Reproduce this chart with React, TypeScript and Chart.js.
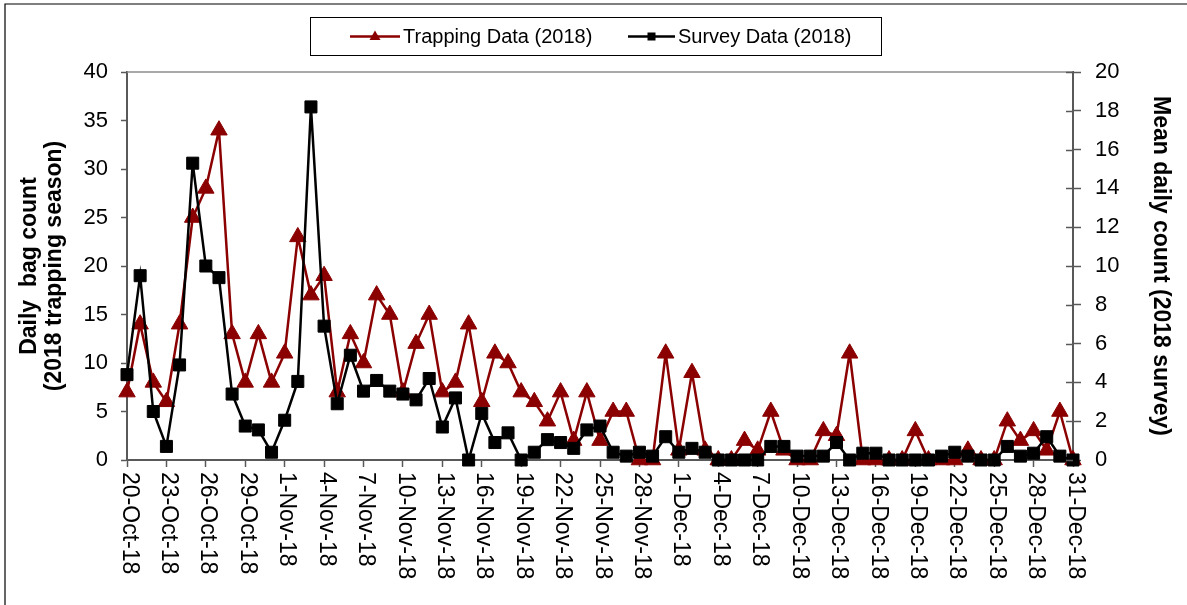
import React, { useEffect, useRef } from 'react';
import { Chart, registerables } from 'chart.js';

Chart.register(...registerables);

const dates = [
  '20-Oct-18', '21-Oct-18', '22-Oct-18', '23-Oct-18', '24-Oct-18', '25-Oct-18', '26-Oct-18', '27-Oct-18', '28-Oct-18', '29-Oct-18', '30-Oct-18', '31-Oct-18',
  '1-Nov-18', '2-Nov-18', '3-Nov-18', '4-Nov-18', '5-Nov-18', '6-Nov-18', '7-Nov-18', '8-Nov-18', '9-Nov-18', '10-Nov-18',
  '11-Nov-18', '12-Nov-18', '13-Nov-18', '14-Nov-18', '15-Nov-18', '16-Nov-18', '17-Nov-18', '18-Nov-18', '19-Nov-18', '20-Nov-18',
  '21-Nov-18', '22-Nov-18', '23-Nov-18', '24-Nov-18', '25-Nov-18', '26-Nov-18', '27-Nov-18', '28-Nov-18', '29-Nov-18', '30-Nov-18',
  '1-Dec-18', '2-Dec-18', '3-Dec-18', '4-Dec-18', '5-Dec-18', '6-Dec-18', '7-Dec-18', '8-Dec-18', '9-Dec-18', '10-Dec-18',
  '11-Dec-18', '12-Dec-18', '13-Dec-18', '14-Dec-18', '15-Dec-18', '16-Dec-18', '17-Dec-18', '18-Dec-18', '19-Dec-18', '20-Dec-18',
  '21-Dec-18', '22-Dec-18', '23-Dec-18', '24-Dec-18', '25-Dec-18', '26-Dec-18', '27-Dec-18', '28-Dec-18', '29-Dec-18', '30-Dec-18', '31-Dec-18',
];

const trapping = [
  7, 14, 8, 6, 14, 25, 28, 34, 13, 8, 13, 8,
  11, 23, 17, 19, 7, 13, 10, 17, 15, 7,
  12, 15, 7, 8, 14, 6, 11, 10, 7, 6,
  4, 7, 2, 7, 2, 5, 5, 0, 0, 11,
  1, 9, 1, 0, 0, 2, 1, 5, 1, 0,
  0, 3, 2.5, 11, 0, 0, 0, 0, 3, 0,
  0, 0, 1, 0, 0, 4, 2, 3, 1, 5, 0,
];

const survey = [
  4.4, 9.5, 2.5, 0.7, 4.9, 15.3, 10.0, 9.4, 3.4, 1.75, 1.55, 0.4,
  2.05, 4.05, 18.2, 6.9, 2.9, 5.4, 3.55, 4.1, 3.55, 3.4,
  3.1, 4.2, 1.7, 3.2, 0, 2.4, 0.9, 1.4, 0, 0.4,
  1.05, 0.9, 0.6, 1.55, 1.75, 0.4, 0.2, 0.4, 0.2, 1.2,
  0.4, 0.6, 0.4, 0, 0, 0, 0, 0.7, 0.7, 0.2,
  0.2, 0.2, 0.9, 0, 0.35, 0.35, 0, 0, 0, 0,
  0.2, 0.4, 0.2, 0, 0, 0.7, 0.2, 0.35, 1.2, 0.2, 0,
];

const seriesNames = ['Trapping Data (2018)', 'Survey Data (2018)'];
const leftTitle = ['Daily  bag count', '(2018 trapping season)'];
const rightTitle = 'Mean daily count (2018 survey)';

const FONT = '"Liberation Sans", Arial, sans-serif';
const RED = '#8B0000';
const AXIS = '#595959';

const decorPlugin = {
  id: 'decor',
  afterDraw(chart: any) {
    const { ctx, chartArea } = chart;
    const xs = chart.scales.x;
    const y1 = chart.scales.y1;
    ctx.save();

    // outer frame (top & left)
    ctx.strokeStyle = '#000';
    ctx.lineWidth = 1.2;
    ctx.beginPath();
    ctx.moveTo(5, 605);
    ctx.lineTo(5, 4);
    ctx.lineTo(1187, 4);
    ctx.stroke();

    // plot area top border
    ctx.strokeStyle = '#8c8c8c';
    ctx.lineWidth = 1.5;
    ctx.beginPath();
    ctx.moveTo(chartArea.left, chartArea.top);
    ctx.lineTo(chartArea.right, chartArea.top);
    ctx.stroke();

    // inner half of right-axis cross ticks
    ctx.strokeStyle = AXIS;
    ctx.lineWidth = 1.5;
    y1.ticks.forEach((t: any) => {
      const py = Math.round(y1.getPixelForValue(t.value)) + 0.5;
      ctx.beginPath();
      ctx.moveTo(chartArea.right - 7, py);
      ctx.lineTo(chartArea.right, py);
      ctx.stroke();
    });

    // x labels rotated clockwise
    ctx.fillStyle = '#000';
    ctx.font = `23px ${FONT}`;
    ctx.textAlign = 'left';
    ctx.textBaseline = 'middle';
    (chart.data.labels as string[]).forEach((lab, i) => {
      if (i % 3 !== 0) return;
      const px = xs.getPixelForValue(i);
      ctx.save();
      ctx.translate(px + 2, xs.top + 12);
      ctx.rotate(Math.PI / 2);
      ctx.fillText(lab, 0, 0);
      ctx.restore();
    });

    // legend
    const bx = 310.5, by = 17.5, bw = 571, bh = 38;
    ctx.strokeStyle = '#000';
    ctx.lineWidth = 1;
    ctx.strokeRect(bx, by, bw, bh);
    const cy = by + bh / 2;
    const items = [
      { x0: 350, x1: 400, tx: 403, color: RED, shape: 'tri' },
      { x0: 628, x1: 675, tx: 678, color: '#000', shape: 'rect' },
    ];
    ctx.font = `20px ${FONT}`;
    ctx.textBaseline = 'middle';
    items.forEach((it, i) => {
      ctx.strokeStyle = it.color;
      ctx.fillStyle = it.color;
      ctx.lineWidth = 2.5;
      ctx.beginPath();
      ctx.moveTo(it.x0, cy);
      ctx.lineTo(it.x1, cy);
      ctx.stroke();
      const mx = (it.x0 + it.x1) / 2;
      ctx.beginPath();
      if (it.shape === 'tri') {
        ctx.moveTo(mx, cy - 6);
        ctx.lineTo(mx + 5.5, cy + 3.5);
        ctx.lineTo(mx - 5.5, cy + 3.5);
        ctx.closePath();
        ctx.fill();
      } else {
        ctx.fillRect(mx - 4, cy - 4, 8, 8);
      }
      ctx.fillStyle = '#000';
      ctx.fillText(chart.data.datasets[i].label, it.tx, cy + 1);
    });

    ctx.restore();
  },
};

export default function App() {
  const ref = useRef<HTMLCanvasElement | null>(null);

  useEffect(() => {
    document.body.style.margin = '0';
    const canvas = ref.current;
    if (!canvas) return;
    Chart.defaults.font.family = FONT;
    const chart = new Chart(canvas, {
      type: 'line',
      data: {
        labels: dates,
        datasets: [
          {
            label: seriesNames[0],
            data: trapping,
            yAxisID: 'y',
            borderColor: RED,
            backgroundColor: RED,
            borderWidth: 2.5,
            pointStyle: 'triangle',
            pointRadius: 9.5,
            pointBorderWidth: 1,
            pointBackgroundColor: RED,
            pointBorderColor: RED,
            tension: 0,
            clip: false,
            order: 2,
          },
          {
            label: seriesNames[1],
            data: survey,
            yAxisID: 'y1',
            borderColor: '#000',
            backgroundColor: '#000',
            borderWidth: 2.5,
            pointStyle: 'rect',
            pointRadius: 8.5,
            pointBorderWidth: 1,
            pointBackgroundColor: '#000',
            pointBorderColor: '#000',
            tension: 0,
            clip: false,
            order: 1,
          },
        ],
      },
      options: {
        animation: false,
        responsive: false,
        maintainAspectRatio: false,
        layout: { padding: { top: 72, left: 0, right: 0, bottom: 0 } },
        plugins: { legend: { display: false }, tooltip: { enabled: false } },
        scales: {
          x: {
            type: 'category',
            offset: false,
            ticks: { display: false },
            grid: {
              drawOnChartArea: false,
              drawTicks: true,
              tickLength: 7,
              tickWidth: 1.5,
              tickColor: (c: any) => (c.index % 3 === 0 ? AXIS : 'rgba(0,0,0,0)'),
            },
            border: { color: AXIS, width: 2 },
            afterFit: (s: any) => { s.height = 145; },
          },
          y: {
            position: 'left',
            min: 0,
            max: 40,
            ticks: { stepSize: 5, padding: 13, color: '#000', font: { size: 22, family: FONT } },
            grid: { drawOnChartArea: false, tickLength: 6, color: AXIS, tickWidth: 1.5 },
            border: { color: AXIS, width: 2 },
            title: {
              display: true,
              text: leftTitle,
              color: '#000',
              font: { size: 23, weight: 'bold', family: FONT, lineHeight: 1.1 },
              padding: { top: 17, bottom: 0 },
            },
            afterFit: (s: any) => { s.width = 127; },
          },
          y1: {
            position: 'right',
            min: 0,
            max: 20,
            ticks: { stepSize: 2, padding: 14, color: '#000', font: { size: 22, family: FONT } },
            grid: { drawOnChartArea: false, tickLength: 8, color: AXIS, tickWidth: 1.5 },
            border: { color: AXIS, width: 2 },
            title: {
              display: true,
              text: rightTitle,
              color: '#000',
              font: { size: 23, weight: 'bold', family: FONT, lineHeight: 1.2 },
              padding: { top: 13, bottom: 0 },
            },
            afterFit: (s: any) => { s.width = 114; },
          },
        },
      },
      plugins: [decorPlugin],
    } as any);
    return () => chart.destroy();
  }, []);

  return (
    <div style={{ width: 1187, height: 605, overflow: 'hidden', background: '#fff' }}>
      <canvas ref={ref} width={1187} height={605} style={{ width: 1187, height: 605, display: 'block' }} />
    </div>
  );
}
